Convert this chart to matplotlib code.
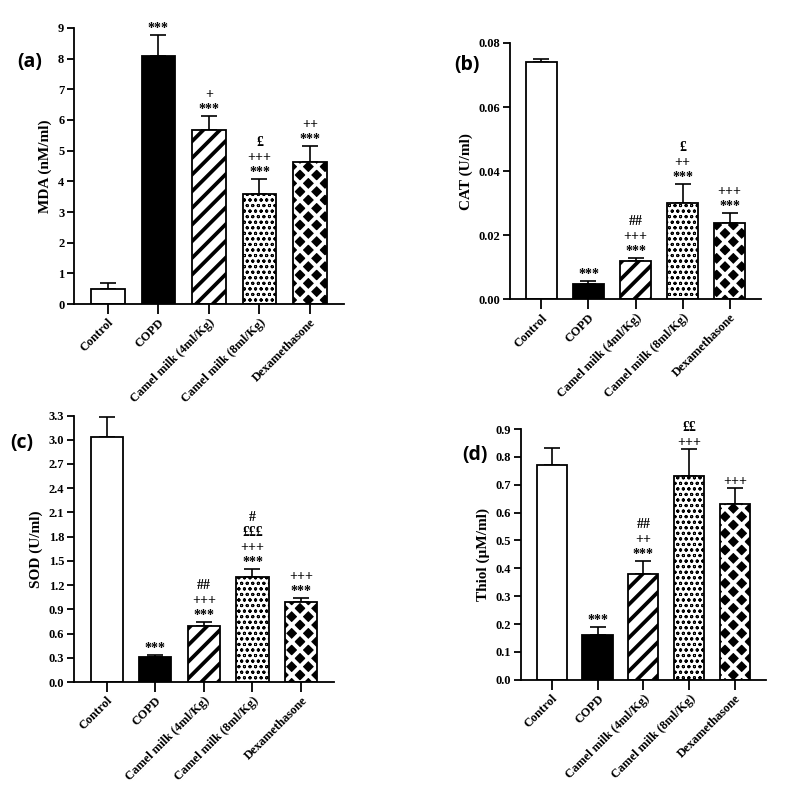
import matplotlib
matplotlib.use("Agg")
import matplotlib.pyplot as plt
import numpy as np

groups = ["Control", "COPD", "Camel milk (4ml/Kg)", "Camel milk (8ml/Kg)", "Dexamethasone"]

mda = [0.48, 8.08, 5.66, 3.58, 4.64]
mda_err = [0.22, 0.70, 0.48, 0.51, 0.52]
mda_sig = ["", "***", "+\n***", "£\n+++\n***", "++\n***"]

cat = [0.0741, 0.0049, 0.0120, 0.0299, 0.0239]
cat_err = [0.0009, 0.0009, 0.0009, 0.0061, 0.0031]
cat_sig = ["", "***", "##\n+++\n***", "£\n++\n***", "+++\n***"]

sod = [3.04, 0.31, 0.69, 1.30, 0.99]
sod_err = [0.24, 0.03, 0.06, 0.10, 0.055]
sod_sig = ["", "***", "##\n+++\n***", "#\n£££\n+++\n***", "+++\n***"]

thiol = [0.77, 0.16, 0.38, 0.73, 0.63]
thiol_err = [0.063, 0.03, 0.045, 0.097, 0.057]
thiol_sig = ["", "***", "##\n++\n***", "££\n+++", "+++"]

serif = ["Liberation Serif", "DejaVu Serif"]
plt.rcParams["font.family"] = serif

fig = plt.figure(figsize=(7.87, 7.96), dpi=100)

panels = [
    dict(rect=[0.094, 0.618, 0.343, 0.347], vals=mda, err=mda_err, sig=mda_sig,
         ylim=9, ticks=np.arange(0, 10, 1), fmt="{:.0f}", ylabel="MDA (nM/ml)",
         label="(a)", lpos=(0.038, 0.922)),
    dict(rect=[0.648, 0.624, 0.319, 0.322], vals=cat, err=cat_err, sig=cat_sig,
         ylim=0.08, ticks=np.arange(0, 0.081, 0.02), fmt="{:.2f}", ylabel="CAT (U/ml)",
         label="(b)", lpos=(0.593, 0.918)),
    dict(rect=[0.094, 0.143, 0.330, 0.335], vals=sod, err=sod_err, sig=sod_sig,
         ylim=3.3, ticks=np.arange(0, 3.31, 0.3), fmt="{:.1f}", ylabel="SOD (U/ml)",
         label="(c)", lpos=(0.028, 0.443)),
    dict(rect=[0.662, 0.146, 0.311, 0.315], vals=thiol, err=thiol_err, sig=thiol_sig,
         ylim=0.9, ticks=np.arange(0, 0.91, 0.1), fmt="{:.1f}", ylabel="Thiol (µM/ml)",
         label="(d)", lpos=(0.603, 0.428)),
]

x = np.arange(len(groups))
w = 0.66


def hatch_lw(container, lw):
    """Render each patch with its own hatch line width."""
    for patch in container:
        if hasattr(patch, "set_hatch_linewidth"):
            patch.set_hatch_linewidth(lw)
        orig = patch.draw

        def draw(renderer, _orig=orig, _lw=lw):
            with plt.rc_context({"hatch.linewidth": _lw}):
                _orig(renderer)
        patch.draw = draw


for p in panels:
    ax = fig.add_axes(p["rect"])
    v = p["vals"]
    # Control
    ax.bar(x[0], v[0], w, color="white", edgecolor="black", linewidth=1.3, zorder=2)
    # COPD
    ax.bar(x[1], v[1], w, color="black", edgecolor="black", linewidth=1.3, zorder=2)
    # Camel milk 4 - thick diagonal stripes
    b = ax.bar(x[2], v[2], w, color="white", edgecolor="black", hatch="//",
               linewidth=1.3, zorder=2)
    hatch_lw(b, 2.7)
    # Camel milk 8 - fine dotted
    b = ax.bar(x[3], v[3], w, color="white", edgecolor="black", hatch="ooo",
               linewidth=1.3, zorder=2)
    hatch_lw(b, 0.7)
    # Dexamethasone - black diamonds (white cross-hatch on black)
    b = ax.bar(x[4], v[4], w, color="black", edgecolor="white", hatch="xx",
               linewidth=0, zorder=2)
    hatch_lw(b, 2.8)
    ax.bar(x[4], v[4], w, fill=False, edgecolor="black", linewidth=1.3, zorder=3)

    ax.errorbar(x, v, yerr=[np.zeros(len(v)), p["err"]], fmt="none", ecolor="black",
                elinewidth=1.2, capsize=6, capthick=1.2, zorder=1)

    for xi, vi, ei, s in zip(x, v, p["err"], p["sig"]):
        if s:
            ax.annotate(s, (xi, vi + ei), xytext=(0, 0), textcoords="offset points",
                        ha="center", va="bottom", fontsize=10, fontweight="bold",
                        linespacing=1.2, annotation_clip=False)

    ax.set_xlim(-0.67, 4.67)
    ax.set_ylim(0, p["ylim"])
    ax.set_yticks(p["ticks"])
    ax.set_yticklabels([p["fmt"].format(t) for t in p["ticks"]], fontweight="bold", fontsize=9)
    ax.set_xticks(x)
    ax.set_xticklabels(groups, rotation=45, ha="right", rotation_mode="anchor",
                       fontweight="bold", fontsize=9)
    ax.tick_params(axis="x", length=7, width=1.3, pad=2)
    ax.tick_params(axis="y", length=5, width=1.3, pad=2)
    for s in ["top", "right"]:
        ax.spines[s].set_visible(False)
    for s in ["left", "bottom"]:
        ax.spines[s].set_linewidth(1.3)
    ax.set_ylabel(p["ylabel"], fontweight="bold", fontsize=11, labelpad=4)
    fig.text(p["lpos"][0], p["lpos"][1], p["label"], fontsize=14, fontweight="bold",
             family=["Open Sans", "DejaVu Sans"], ha="center", va="center")

fig.savefig("out.png", dpi=100)
